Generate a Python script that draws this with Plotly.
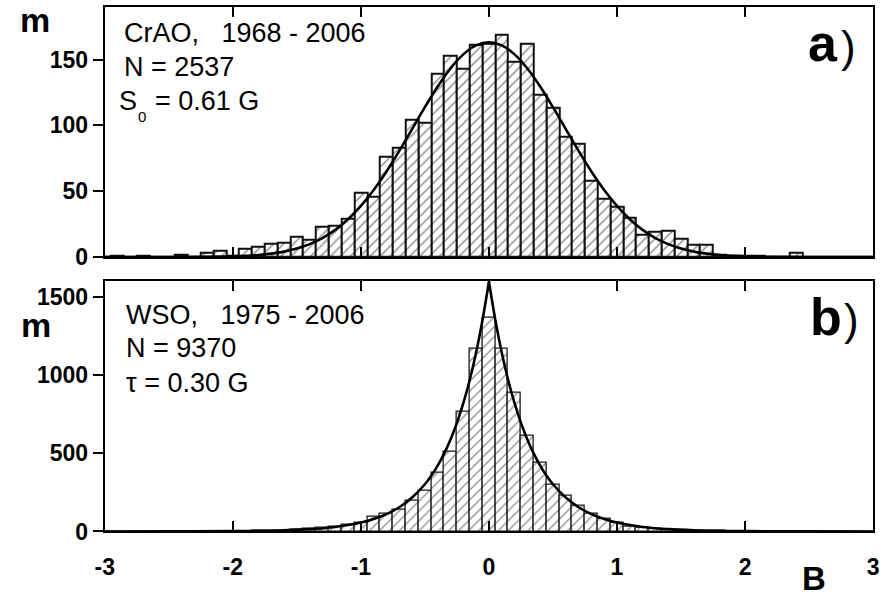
import plotly.graph_objects as go

# ---------------- data ----------------
bin_centers = [round(-3.0 + 0.1 * i, 1) for i in range(61)]   # bin width 0.1 G

crao_counts = [0, 1, 0, 1, 0, 0, 2, 0, 3, 5, 1, 6, 8, 10, 11, 15, 13, 23, 24, 29,
               49, 46, 76, 83, 104, 102, 139, 153, 143, 161,
               162,
               169, 148, 162, 123, 113, 91, 86, 58, 44, 38, 30, 17, 19, 20, 14, 9, 9, 2, 1,
               1, 1, 0, 0, 3, 0, 0, 0, 0, 0, 0]

wso_counts = [0, 0, 0, 0, 0, 0, 0, 0, 0, 0, 0, 1, 2, 4, 6, 9, 14, 23, 33, 44,
              55, 97, 113, 139, 198, 262, 373, 510, 764, 1167,
              1365,
              1172, 890, 615, 440, 299, 229, 162, 113, 82, 56, 29, 24, 15, 10, 5, 4, 3, 2, 1,
              0, 0, 0, 0, 0, 0, 0, 0, 0, 0, 0]

# fitted curves
gauss_B = [-3.0, -2.5, -2.2, -2.0, -1.9, -1.8, -1.7, -1.6, -1.5, -1.4, -1.3, -1.2, -1.1, -1.0,
           -0.9, -0.8, -0.7, -0.6, -0.5, -0.4, -0.3, -0.2, -0.1, 0.0,
           0.1, 0.2, 0.3, 0.4, 0.5, 0.6, 0.7, 0.8, 0.9, 1.0, 1.1, 1.2, 1.3, 1.4, 1.5,
           1.6, 1.7, 1.8, 1.9, 2.0, 2.2, 2.5, 3.0]
gauss_m = [0, 0.05, 0.15, 0.5, 0.9, 1.5, 2.6, 4.1, 6.4, 9.8, 14.4, 20.6, 28.7, 38.8,
           50.9, 65.0, 80.6, 97.2, 113.8, 129.5, 143.2, 153.9, 160.7, 163.0,
           160.7, 153.9, 143.2, 129.5, 113.8, 97.2, 80.6, 65.0, 50.9, 38.8, 28.7, 20.6, 14.4, 9.8, 6.4,
           4.1, 2.6, 1.5, 0.9, 0.5, 0.15, 0.05, 0]

lap_B = [-3.0, -2.5, -2.0, -1.8, -1.6, -1.4, -1.2, -1.1, -1.0, -0.9, -0.8, -0.7, -0.6, -0.5,
         -0.45, -0.4, -0.35, -0.3, -0.25, -0.2, -0.15, -0.1, -0.05, 0.0,
         0.05, 0.1, 0.15, 0.2, 0.25, 0.3, 0.35, 0.4, 0.45, 0.5, 0.6, 0.7, 0.8, 0.9, 1.0,
         1.1, 1.2, 1.4, 1.6, 1.8, 2.0, 2.5, 3.0]
lap_m = [0.1, 0.4, 2, 4, 7.7, 15, 29, 41, 57, 80, 111, 155, 217, 302,
         357, 422, 498, 589, 695, 821, 970, 1146, 1354, 1600,
         1354, 1146, 970, 821, 695, 589, 498, 422, 357, 302, 217, 155, 111, 80, 57,
         41, 29, 15, 7.7, 4, 2, 0.4, 0.1]

x_ticks = [-3, -2, -1, 0, 1, 2, 3]
x_tick_text = ["-3", "-2", "-1", "0", "1", "2", "3"]
top_yticks = [0, 50, 100, 150]
bot_yticks = [0, 500, 1000, 1500]

# ---------------- figure ----------------
W, H = 885, 601
def px(x):
    return x / W
def py(y):
    return (H - y) / H

XD = [px(96.5), px(879)]
TOP_D = [py(262.7), py(7)]
BOT_D = [py(543.2), py(287)]

FONT = "Liberation Sans, Arial, sans-serif"

fig = go.Figure()

fig.add_trace(go.Bar(
    x=bin_centers, y=crao_counts, width=0.1, xaxis="x", yaxis="y",
    marker=dict(color="white", line=dict(color="#111111", width=2),
                pattern=dict(shape="/", fgcolor="#111111", bgcolor="white", size=7, solidity=0.2)),
    showlegend=False, hoverinfo="skip"))
fig.add_trace(go.Scatter(
    x=gauss_B, y=gauss_m, mode="lines", xaxis="x", yaxis="y",
    line=dict(color="black", width=2.6, shape="spline"), showlegend=False, hoverinfo="skip"))

fig.add_trace(go.Bar(
    x=bin_centers, y=wso_counts, width=0.1, xaxis="x2", yaxis="y2",
    marker=dict(color="white", line=dict(color="#1a1a1a", width=1.3),
                pattern=dict(shape="/", fgcolor="#1a1a1a", bgcolor="white", size=7, solidity=0.18)),
    showlegend=False, hoverinfo="skip"))

i0 = lap_B.index(0.0)
fig.add_trace(go.Scatter(
    x=lap_B[:i0 + 1], y=lap_m[:i0 + 1], mode="lines", xaxis="x2", yaxis="y2",
    line=dict(color="black", width=2.6, shape="spline"), showlegend=False, hoverinfo="skip"))
fig.add_trace(go.Scatter(
    x=lap_B[i0:], y=lap_m[i0:], mode="lines", xaxis="x2", yaxis="y2",
    line=dict(color="black", width=2.6, shape="spline"), showlegend=False, hoverinfo="skip"))

tickfont = dict(family=FONT, size=23, color="black", weight="bold")

common_x = dict(range=[-3, 3], tickvals=x_ticks, ticktext=x_tick_text, ticks="inside",
                ticklen=10, tickwidth=1.5, tickcolor="black", showline=True, linewidth=2,
                linecolor="black", mirror="ticks", showgrid=False, zeroline=False,
                domain=XD, tickfont=tickfont, ticklabeloverflow="allow")

fig.update_layout(
    width=W, height=H, margin=dict(l=0, r=0, t=0, b=0),
    paper_bgcolor="white", plot_bgcolor="white", bargap=0,
    xaxis=dict(common_x, anchor="y", showticklabels=False),
    yaxis=dict(domain=TOP_D, anchor="x", range=[0, 190], tickvals=top_yticks,
               ticks="outside", ticklen=10, tickwidth=1.5, tickcolor="black",
               showline=True, linewidth=2, linecolor="black", mirror=True,
               showgrid=False, zeroline=False, tickfont=tickfont),
    yaxis3=dict(domain=TOP_D, anchor="x", overlaying="y", side="right", range=[0, 190],
                tickvals=top_yticks, ticks="inside", ticklen=10, tickwidth=1.5,
                tickcolor="black", showticklabels=False, showline=False,
                showgrid=False, zeroline=False),
    xaxis2=dict(common_x, anchor="y2", showticklabels=True, ticklabelstandoff=14),
    yaxis2=dict(domain=BOT_D, anchor="x2", range=[0, 1605], tickvals=bot_yticks,
                ticks="outside", ticklen=10, tickwidth=1.5, tickcolor="black",
                showline=True, linewidth=2, linecolor="black", mirror=True,
                showgrid=False, zeroline=False, tickfont=tickfont),
    yaxis4=dict(domain=BOT_D, anchor="x2", overlaying="y2", side="right", range=[0, 1605],
                tickvals=bot_yticks, ticks="inside", ticklen=10, tickwidth=1.5,
                tickcolor="black", showticklabels=False, showline=False,
                showgrid=False, zeroline=False),
)

def note(text, x, y, size, bold=False, xanchor="left", pad=1):
    fig.add_annotation(text=text, x=px(x), y=py(y), xref="paper", yref="paper",
                       xanchor=xanchor, yanchor="middle", showarrow=False, borderpad=pad,
                       font=dict(family=FONT, size=size, color="black",
                                 weight="bold" if bold else "normal"))

NB = "\u00a0"
# panel a
note("CrAO," + NB * 3 + "1968 - 2006", 114, 34, 27)
note("N = 2537", 114, 68, 27)
note("S", 130, 103, 27, xanchor="right", pad=0)
note("0", 129.5, 119, 15, pad=0)
note("= 0.61 G", 146, 103, 27)
note("a", 845, 44, 52, bold=True, xanchor="right")
note(")", 864, 47.5, 44, xanchor="right")
note("m", 8, 20, 34, bold=True)
# panel b
note("WSO," + NB * 3 + "1975 - 2006", 116, 322, 27)
note("N = 9370", 116, 356, 27)
note("\u03c4 = 0.30 G", 116, 391, 27)
note("b", 849, 324, 52, bold=True, xanchor="right")
note(")", 867, 326.5, 44, xanchor="right")
note("m", 10, 332, 34, bold=True, pad=0)
note("B", 806, 591, 33, bold=True, pad=0)

fig.write_html("out.html", config={"displayModeBar": False},
               post_script="document.body.style.margin='0';")
